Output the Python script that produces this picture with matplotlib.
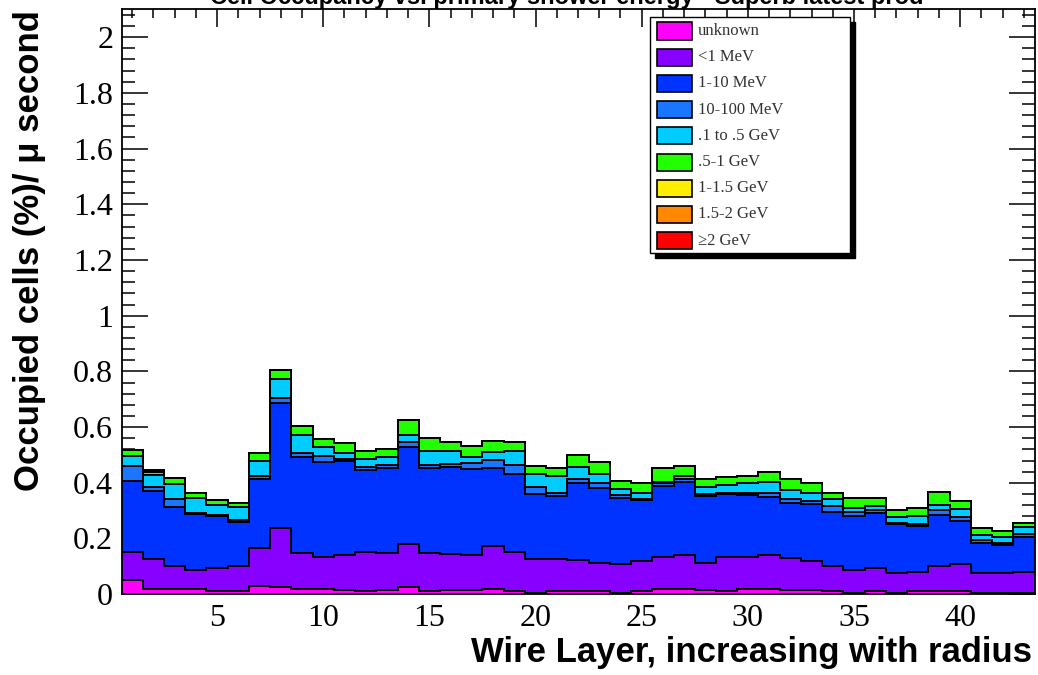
import numpy as np
import matplotlib
matplotlib.use("Agg")
import matplotlib.pyplot as plt
from matplotlib.patches import Rectangle
from matplotlib.ticker import MultipleLocator, FuncFormatter

# ---------------- data ----------------
layers = list(range(1, 44))  # wire layers 1..43

categories = ["unknown", "<1 MeV", "1-10 MeV", "10-100 MeV", ".1 to .5 GeV",
              ".5-1 GeV", "1-1.5 GeV", "1.5-2 GeV", "\u22652 GeV"]
colors = ["#ff00ff", "#8800ff", "#0033ff", "#1a75ff", "#00ccff",
          "#22ff00", "#ffee00", "#ff8800", "#ff0000"]

unknown = [0.051, 0.018, 0.020, 0.018, 0.012, 0.012, 0.029, 0.027, 0.020, 0.018,
           0.015, 0.012, 0.015, 0.027, 0.013, 0.015, 0.015, 0.020, 0.013, 0.004,
           0.011, 0.011, 0.010, 0.005, 0.010, 0.017, 0.017, 0.015, 0.010, 0.018,
           0.018, 0.015, 0.016, 0.012, 0.005, 0.010, 0.004, 0.012, 0.012, 0.012,
           0.003, 0.003, 0.003]
lt1MeV = [0.102, 0.107, 0.081, 0.069, 0.081, 0.089, 0.138, 0.212, 0.129, 0.117,
          0.126, 0.141, 0.132, 0.152, 0.134, 0.130, 0.126, 0.153, 0.140, 0.121,
          0.114, 0.112, 0.103, 0.103, 0.110, 0.118, 0.124, 0.098, 0.123, 0.117,
          0.123, 0.114, 0.104, 0.089, 0.082, 0.083, 0.071, 0.069, 0.089, 0.096,
          0.074, 0.074, 0.078]
mev1_10 = [0.255, 0.244, 0.213, 0.201, 0.189, 0.160, 0.245, 0.446, 0.342, 0.341,
           0.337, 0.293, 0.305, 0.351, 0.307, 0.310, 0.309, 0.279, 0.279, 0.235,
           0.228, 0.277, 0.267, 0.237, 0.218, 0.254, 0.263, 0.240, 0.226, 0.222,
           0.209, 0.197, 0.204, 0.194, 0.194, 0.200, 0.177, 0.164, 0.183, 0.156,
           0.108, 0.100, 0.124]
mev10_100 = [0.052, 0.015, 0.027, 0.002, 0.002, 0.005, 0.012, 0.018, 0.017, 0.020,
             0.006, 0.012, 0.012, 0.018, 0.010, 0.013, 0.020, 0.030, 0.032, 0.024,
             0.009, 0.012, 0.018, 0.011, 0.004, 0.009, 0.008, 0.005, 0.006, 0.008,
             0.012, 0.015, 0.012, 0.022, 0.015, 0.009, 0.005, 0.007, 0.018, 0.012,
             0.010, 0.008, 0.011]
gev01_05 = [0.036, 0.043, 0.055, 0.057, 0.036, 0.046, 0.054, 0.069, 0.064, 0.034,
            0.024, 0.026, 0.030, 0.024, 0.051, 0.047, 0.024, 0.030, 0.051, 0.048,
            0.062, 0.046, 0.034, 0.021, 0.023, 0.006, 0.012, 0.026, 0.027, 0.033,
            0.042, 0.033, 0.026, 0.024, 0.012, 0.015, 0.019, 0.027, 0.018, 0.029,
            0.018, 0.021, 0.026]
gev05_1 = [0.022, 0.012, 0.022, 0.018, 0.018, 0.014, 0.028, 0.033, 0.032, 0.026,
           0.036, 0.031, 0.026, 0.053, 0.045, 0.033, 0.038, 0.039, 0.030, 0.028,
           0.028, 0.042, 0.044, 0.031, 0.035, 0.048, 0.036, 0.028, 0.029, 0.026,
           0.036, 0.038, 0.036, 0.024, 0.036, 0.027, 0.026, 0.029, 0.048, 0.031,
           0.024, 0.022, 0.013]
gev1_15 = [0.0] * 43
gev15_2 = [0.0] * 43
gev_ge2 = [0.0, 0.008] + [0.0] * 41

series = [unknown, lt1MeV, mev1_10, mev10_100, gev01_05, gev05_1,
          gev1_15, gev15_2, gev_ge2]

# ---------------- figure ----------------
W, H = 1038, 675
fig = plt.figure(figsize=(W / 100, H / 100), dpi=100)
ax = fig.add_axes([121.5 / W, 1 - 594.2 / H, (1034.5 - 121.5) / W, (594.2 - 9.3) / H])

edges = np.arange(len(layers) + 1) + 0.5
cum = np.cumsum(np.array(series), axis=0)

# draw like a ROOT THStack: top cumulative first, each filled from 0, black outline
for k in range(len(series) - 1, -1, -1):
    ax.stairs(cum[k], edges, baseline=0, fill=True, facecolor=colors[k],
              edgecolor="none", zorder=2 + (len(series) - k) * 2)
    ax.stairs(cum[k], edges, baseline=None, fill=False, color="black",
              linewidth=1.4, zorder=3 + (len(series) - k) * 2)

ax.set_xlim(0.5, 43.5)
ax.set_ylim(0, 2.1)

serif = ["Liberation Serif", "DejaVu Serif"]
ax.xaxis.set_major_locator(MultipleLocator(5))
ax.xaxis.set_minor_locator(MultipleLocator(1))
ax.yaxis.set_major_locator(MultipleLocator(0.2))
ax.yaxis.set_minor_locator(MultipleLocator(0.04))
ax.yaxis.set_major_formatter(FuncFormatter(lambda v, p: "%g" % round(v, 2)))
ax.xaxis.set_major_formatter(FuncFormatter(lambda v, p: "%g" % v if 0 < v < 43.5 else ""))

ax.tick_params(axis="both", which="both", direction="in", top=True, right=True,
               width=1.1, color="black", zorder=30)
ax.tick_params(axis="x", which="major", length=13, pad=7)
ax.tick_params(axis="x", which="minor", length=6.5)
ax.tick_params(axis="y", which="major", length=19, pad=6)
ax.tick_params(axis="y", which="minor", length=9.5)
for lab in ax.get_xticklabels() + ax.get_yticklabels():
    lab.set_fontfamily(serif)
    lab.set_fontsize(23)
for s in ax.spines.values():
    s.set_linewidth(1.3)
    s.set_zorder(40)
ax.set_axisbelow(False)

sans = ["Liberation Sans", "DejaVu Sans"]
# axis titles (ROOT style: right/top aligned)
fig.text(1032 / W, 1 - 662 / H, "Wire Layer, increasing with radius",
         ha="right", va="baseline", fontsize=25, fontweight="bold", family=sans)
fig.text(30 / W, 1 - 10 / H, "Occupied cells (%)/ \u03bc second",
         ha="center", va="top", rotation=90, fontsize=25, fontweight="bold",
         family=sans)
# title, cut off at the top of the canvas as in the reference
fig.text(567 / W, 1.004, "Cell Occupancy vs. primary shower energy - Superb latest prod",
         ha="center", va="center", fontsize=17, fontweight="bold", family=sans)

# ---------------- legend (ROOT TLegend with black shadow) ----------------
lx0, ly0, lx1, ly1 = 650, 17, 850, 253
fig.patches.append(Rectangle(((lx0 + 5) / W, 1 - (ly1 + 5) / H), (lx1 - lx0) / W,
                             (ly1 - ly0) / H, transform=fig.transFigure,
                             facecolor="black", edgecolor="black", zorder=50))
fig.patches.append(Rectangle((lx0 / W, 1 - ly1 / H), (lx1 - lx0) / W, (ly1 - ly0) / H,
                             transform=fig.transFigure, facecolor="white",
                             edgecolor="black", linewidth=1.0, zorder=51))
row0, dy = 31, 26.2
for i, (name, col) in enumerate(zip(categories, colors)):
    yc = row0 + i * dy
    fig.patches.append(Rectangle((657 / W, 1 - (yc + 8.5) / H), 35 / W, 17 / H,
                                 transform=fig.transFigure, facecolor=col,
                                 edgecolor="black", linewidth=1.2, zorder=52))
    fig.text(698 / W, 1 - yc / H, name, ha="left", va="center", fontsize=12,
             family=serif, color="#333333", zorder=53)

fig.savefig("out.png", dpi=100)
